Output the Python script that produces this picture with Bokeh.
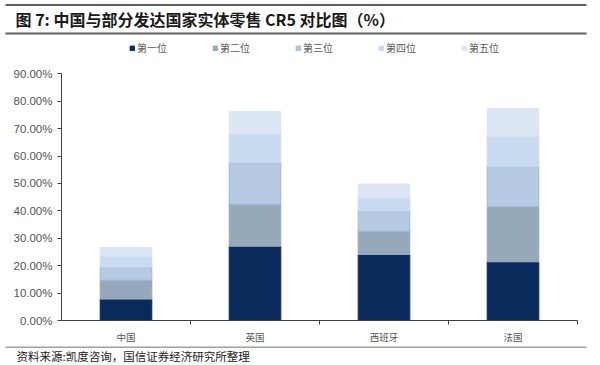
from bokeh.plotting import figure
from bokeh.models import (FixedTicker, NumeralTickFormatter, Range1d, Label,
                          ColumnDataSource)
from bokeh.embed import file_html
from bokeh.resources import INLINE

# ---- data ----
categories = ["中国", "英国", "西班牙", "法国"]
series_names = ["第一位", "第二位", "第三位", "第四位", "第五位"]
first = [0.078, 0.271, 0.241, 0.214]
second = [0.069, 0.153, 0.085, 0.201]
third = [0.048, 0.153, 0.074, 0.148]
fourth = [0.040, 0.105, 0.048, 0.110]
fifth = [0.032, 0.081, 0.050, 0.100]
y_ticks = [0.0, 0.1, 0.2, 0.3, 0.4, 0.5, 0.6, 0.7, 0.8, 0.9]

title_text = "图 7:  中国与部分发达国家实体零售 CR5 对比图（%）"
source_text = "资料来源:凯度咨询，国信证券经济研究所整理"

colors = ["#0b2a5c", "#96a9ba", "#b6cae3", "#c9dbf0", "#dce6f2"]
lines = ["#0b2a5c", "#96a9ba", "#9cb6d8", "#c9dbf0", "#dce6f2"]

W = 600
HEAD_H, MAIN_H, FOOT_H = 35, 311, 19
BOTTOM_PANEL = 21
FRAME_H = MAIN_H - BOTTOM_PANEL
Y_TOP = y_ticks[-1] * FRAME_H / 251.0   # head-room above 90% for the legend


def blank(height):
    f = figure(width=W, height=height, output_backend="svg",
               toolbar_location=None, x_range=Range1d(0, W),
               y_range=Range1d(height, 0), min_border=0,
               x_axis_location=None, y_axis_location=None)
    f.grid.visible = False
    f.outline_line_color = None
    return f


# ---- header ----
head = blank(HEAD_H)
head.segment(x0=[5, 5], x1=[586, 586], y0=[4.5, 33], y1=[4.5, 33],
             line_width=2, line_color="#5e5e5e")
head.add_layout(Label(x=15, y=18.5, text=title_text,
                      text_font="Noto Sans CJK SC", text_font_style="bold",
                      text_font_size="16px", text_color="#1a1a1a",
                      text_baseline="middle", text_align="left"))

# ---- main chart ----
p = figure(width=W, height=MAIN_H, output_backend="svg", toolbar_location=None,
           x_range=Range1d(0, len(categories)), y_range=Range1d(0, Y_TOP),
           min_border_left=61, min_border_right=23, min_border_top=0,
           min_border_bottom=BOTTOM_PANEL)

x_pos = [i + 0.5 for i in range(len(categories))]
source = ColumnDataSource(dict(x=x_pos, s1=first, s2=second, s3=third,
                               s4=fourth, s5=fifth))
keys = ["s1", "s2", "s3", "s4", "s5"]
p.vbar_stack(keys, x="x", width=0.4, source=source, fill_color=colors,
             line_color=lines, line_width=1, legend_label=series_names)

p.xgrid.visible = False
p.ygrid.visible = False
p.outline_line_color = None

ya = p.yaxis[0]
ya.ticker = FixedTicker(ticks=y_ticks)
ya.bounds = (y_ticks[0], y_ticks[-1])
ya.formatter = NumeralTickFormatter(format="0.00%")
ya.major_label_text_font = "Liberation Sans"
ya.major_label_text_font_size = "11.5px"
ya.major_label_text_color = "#555555"
ya.axis_line_color = "#404040"
ya.major_tick_line_color = "#404040"
ya.major_tick_out = 4
ya.major_tick_in = 0
ya.minor_tick_line_color = None
ya.major_label_standoff = 5

xa = p.xaxis[0]
xa.ticker = FixedTicker(ticks=x_pos, minor_ticks=[1, 2, 3, 4])
xa.major_label_overrides = {x: c for x, c in zip(x_pos, categories)}
xa.major_tick_line_color = None
xa.major_tick_out = 4
xa.minor_tick_line_color = "#404040"
xa.minor_tick_out = 4
xa.minor_tick_in = 0
xa.axis_line_color = "#404040"
xa.major_label_text_font = "Noto Sans CJK SC"
xa.major_label_text_font_size = "9.5px"
xa.major_label_text_color = "#555555"
xa.major_label_standoff = 5

lg = p.legend[0]
lg.orientation = "horizontal"
lg.location = (68, 265)
lg.border_line_color = None
lg.background_fill_alpha = 0
lg.padding = 0
lg.margin = 0
lg.spacing = 45
lg.glyph_width = 6
lg.glyph_height = 6
lg.label_standoff = 2
lg.label_text_font = "Noto Sans CJK SC"
lg.label_text_font_size = "10px"
lg.label_text_color = "#595959"
lg.label_height = 12

# ---- footer ----
foot = blank(FOOT_H)
foot.segment(x0=[5], x1=[586], y0=[0.5], y1=[0.5], line_width=1.2,
             line_color="#404040")
foot.add_layout(Label(x=16, y=9, text=source_text,
                      text_font="Noto Sans CJK SC", text_font_size="11.5px",
                      text_color="#1a1a1a", text_baseline="middle",
                      text_align="left"))

open("out.html", "w").write(file_html([head, p, foot], INLINE))
